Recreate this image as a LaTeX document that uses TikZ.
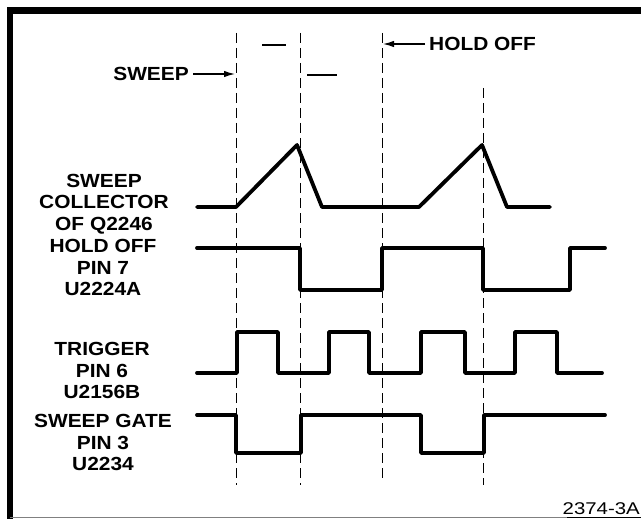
\documentclass[tikz,border=0pt]{standalone}
\usepackage{fontspec}
\setmainfont{Liberation Sans}
\newfontfamily\lblfont[FakeStretch=1.1]{Liberation Sans}
\newfontfamily\numfont[FakeStretch=1.2]{Liberation Sans}
\usetikzlibrary{arrows.meta}
\begin{document}
\begin{tikzpicture}[x=1pt,y=-1pt,
  wave/.style={line width=3.8pt,line join=round,line cap=round},
  guide/.style={line width=1pt,dash pattern=on 10pt off 5pt},
  lbl/.style={font=\lblfont\fontsize{19}{21.3}\selectfont\bfseries,align=center,inner sep=0pt},
  ptr/.style={line width=1.3pt,-{Latex[length=11pt,width=6.5pt]}}]
\useasboundingbox (0,0) rectangle (641,519);
% frame
\draw[line width=6.5pt] (10,519) -- (10,10.5) -- (641,10.5);
\draw[gray,line width=0.8pt] (10,517.5) -- (641,517.5);
% dashed time marks
\draw[guide] (236,33) -- (236,485);
\draw[guide] (300,33) -- (300,485);
\draw[guide] (382,33) -- (382,482);
\draw[guide] (483,88) -- (483,485);
\coordinate (g1) at (235,74);
\coordinate (g3) at (383,44);
% top labels
\node[lbl,anchor=east] (sw) at (189,74) {SWEEP};
\node[lbl,anchor=west] (ho) at (429,44) {HOLD OFF};
\draw[ptr] (sw.east) ++(4,0) -- (g1);
\draw[ptr] (ho.west) ++(-4,0) -- (g3);
\draw[line width=1.4pt] (262,45) -- (286,45);
\draw[line width=1.4pt] (307,75) -- (337,75);
% signal names
\node[lbl] (coll) at (104,204) {SWEEP\\COLLECTOR\\OF Q2246};
\node[lbl] (hold) at (103,267.5) {HOLD OFF\\PIN 7\\U2224A};
\node[lbl] (trig) at (102,370.5) {TRIGGER\\PIN 6\\U2156B};
\node[lbl] (gate) at (103,442.5) {SWEEP GATE\\PIN 3\\U2234};
% waveforms
\draw[wave] (197,207) -- (236,207) -- (297,145) -- (322,207) -- (419,207) -- (482,145) -- (507,207) -- (550,207);
\draw[wave] (197,248) -- (300,248) -- (300,290) -- (382,290) -- (382,248) -- (483,248) -- (483,290) -- (570,290) -- (570,248) -- (605,248);
\draw[wave] (197,373) -- (237,373) -- (237,332) -- (278,332) -- (278,373) -- (329,373) -- (329,332) -- (369,332) -- (369,373)
  -- (421,373) -- (421,332) -- (465,332) -- (465,373) -- (515,373) -- (515,332) -- (557,332) -- (557,373) -- (602,373);
\draw[wave] (197,415) -- (236,415) -- (236,453) -- (301,453) -- (301,415) -- (421,415) -- (421,453) -- (484,453) -- (484,415) -- (605,415);
% figure number
\node[font=\numfont\fontsize{17}{17}\selectfont,anchor=base east,inner sep=0pt] (fig) at (640,514) {2374-3A};
\draw[line width=1.3pt] (567,517.5) -- (641,517.5);
\end{tikzpicture}
\end{document}
